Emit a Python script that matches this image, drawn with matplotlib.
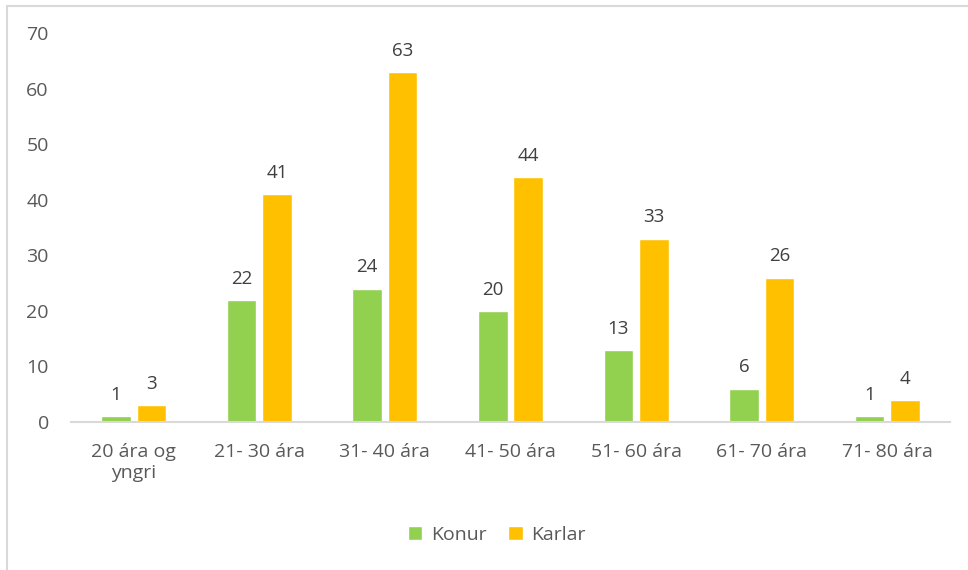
import matplotlib.pyplot as plt
import numpy as np
from matplotlib.patches import Rectangle

categories = ['20 ára og\nyngri', '21- 30 ára', '31- 40 ára', '41- 50 ára',
              '51- 60 ára', '61- 70 ára', '71- 80 ára']
konur = [1, 22, 24, 20, 13, 6, 1]
karlar = [3, 41, 63, 44, 33, 26, 4]

plt.rcParams['font.family'] = ['Open Sans', 'DejaVu Sans']

fig = plt.figure(figsize=(9.68, 5.70), dpi=100)
fig.patches.append(Rectangle((7 / 968, -0.1), 1.2, 1 - 6 / 570 + 0.1,
                             transform=fig.transFigure, fill=False,
                             edgecolor='#d9d9d9', linewidth=1.5))
ax = fig.add_axes([71 / 968, 1 - 422 / 570, 879 / 968, (422 - 33) / 570])

x = np.arange(len(categories))
w = 0.235
off = 0.141
b1 = ax.bar(x - off, konur, w, color='#92d050', edgecolor='white', linewidth=1, label='Konur')
b2 = ax.bar(x + off, karlar, w, color='#ffc000', edgecolor='white', linewidth=1, label='Karlar')

for bars, vals in ((b1, konur), (b2, karlar)):
    for r, v in zip(bars, vals):
        ax.text(r.get_x() + r.get_width() / 2, v + 2.2, str(v), ha='center', va='bottom',
                fontsize=13.5, color='#404040')

ax.set_xlim(-0.5, len(categories) - 0.5)
ax.set_ylim(0, 70)
ax.set_yticks(range(0, 71, 10))
ax.set_xticks(x)
ax.set_xticklabels(categories, linespacing=1.25)
ax.tick_params(axis='both', length=0, labelsize=14, colors='#595959')
ax.tick_params(axis='x', pad=15)
ax.tick_params(axis='y', pad=16)
for s in ['top', 'right', 'left']:
    ax.spines[s].set_visible(False)
ax.spines['bottom'].set_color('#d9d9d9')
ax.spines['bottom'].set_linewidth(1.5)

fig.legend(loc='center', bbox_to_anchor=(497 / 968, 1 - 535 / 570), ncol=2, frameon=False,
           fontsize=14, labelcolor='#595959', handlelength=0.75, handleheight=0.75,
           handletextpad=0.45, columnspacing=1.1)

fig.savefig('out.png', dpi=100)
